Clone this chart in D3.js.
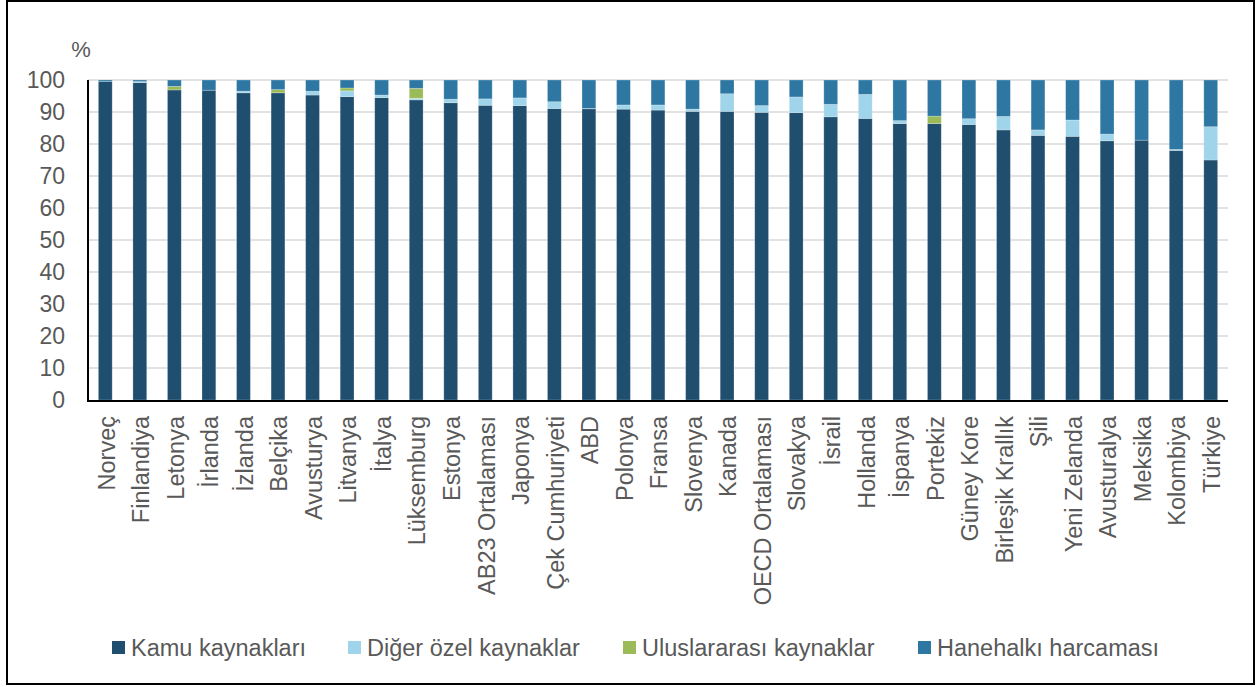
<!DOCTYPE html>
<html>
<head>
<meta charset="utf-8">
<script src="https://cdn.jsdelivr.net/npm/d3@7"></script>
<style>
  body { margin: 0; background: #fff; }
  text { font-family: "Liberation Sans", Arial, sans-serif; }
</style>
</head>
<body>
<div id="chart"></div>
<script>
// countries, left to right
var countries = ["Norveç", "Finlandiya", "Letonya", "İrlanda", "İzlanda", "Belçika", "Avusturya",
  "Litvanya", "İtalya", "Lüksemburg", "Estonya", "AB23 Ortalaması", "Japonya", "Çek Cumhuriyeti",
  "ABD", "Polonya", "Fransa", "Slovenya", "Kanada", "OECD Ortalaması", "Slovakya", "İsrail",
  "Hollanda", "İspanya", "Portekiz", "Güney Kore", "Birleşik Krallık", "Şili", "Yeni Zelanda",
  "Avusturalya", "Meksika", "Kolombiya", "Türkiye"];

// shares (%)
var kamu  = [99.5, 99.2, 96.9, 96.8, 96.0, 96.0, 95.3, 94.8, 94.5, 93.8, 92.9, 92.1, 92.0, 91.1,
  91.0, 90.9, 90.6, 90.2, 90.2, 89.9, 89.8, 88.5, 88.0, 86.4, 86.4, 86.1, 84.4, 82.7, 82.4,
  81.0, 81.2, 78.0, 75.0];
var diger = [0, 0.3, 0, 0, 0.5, 0, 1.2, 1.8, 0.8, 0.5, 1.1, 2.0, 2.4, 2.1,
  0.1, 1.3, 1.6, 0.7, 5.5, 2.1, 4.9, 3.9, 7.5, 0.9, 0, 1.8, 4.2, 1.7, 5.1,
  2.1, 0, 0.3, 10.4];
var ulus  = [0, 0, 1.1, 0, 0, 1.0, 0, 0.9, 0, 3.1, 0, 0, 0, 0,
  0, 0, 0, 0, 0, 0, 0, 0, 0, 0, 2.3, 0, 0, 0, 0,
  0, 0, 0, 0];
var hane  = [0.5, 0.5, 2.0, 3.2, 3.5, 3.0, 3.5, 2.5, 4.7, 2.6, 6.0, 5.9, 5.6, 6.8,
  8.9, 7.8, 7.8, 9.1, 4.3, 8.0, 5.3, 7.6, 4.5, 12.7, 11.3, 12.1, 11.4, 15.6, 12.5,
  16.9, 18.8, 21.7, 14.6];

var seriesKeys = ["kamu", "diger", "ulus", "hane"];
var seriesNames = ["Kamu kaynakları", "Diğer özel kaynaklar", "Uluslararası kaynaklar", "Hanehalkı harcaması"];
var seriesColors = ["#1f4e6f", "#9fd4ea", "#9bbb59", "#2e77a3"];
var yTicks = [0, 10, 20, 30, 40, 50, 60, 70, 80, 90, 100];

var width = 1260, height = 687;
var plotLeft = 88, plotRight = 1228, plotTop = 80, plotBottom = 400;

var rows = countries.map(function (c, i) {
  return { name: c, kamu: kamu[i], diger: diger[i], ulus: ulus[i], hane: hane[i] };
});

var svg = d3.select("#chart").append("svg")
  .attr("width", width)
  .attr("height", height);

// outer frame
svg.append("rect")
  .attr("x", 7).attr("y", 1)
  .attr("width", 1247).attr("height", 683)
  .attr("fill", "none")
  .attr("stroke", "#000")
  .attr("stroke-width", 2);

var x = d3.scaleBand()
  .domain(countries)
  .range([plotLeft, plotRight])
  .paddingInner(0.6)
  .paddingOuter(0.3);

var y = d3.scaleLinear()
  .domain([0, 100])
  .range([plotBottom, plotTop]);

// gridlines
svg.append("g")
  .selectAll("line")
  .data(yTicks.filter(function (t) { return t > 0; }))
  .enter()
  .append("line")
  .attr("x1", plotLeft).attr("x2", plotRight)
  .attr("y1", function (d) { return y(d); })
  .attr("y2", function (d) { return y(d); })
  .attr("stroke", "#d9d9d9")
  .attr("stroke-width", 1.5);

// y axis labels
var yAxis = svg.append("g")
  .attr("transform", "translate(" + plotLeft + ",0)")
  .call(d3.axisLeft(y).tickValues(yTicks).tickSize(0).tickPadding(23));
yAxis.select(".domain").remove();
yAxis.selectAll("text")
  .attr("font-size", "23px")
  .attr("fill", "#595959")
  .style("font-family", "'Liberation Sans', Arial, sans-serif");

svg.append("text")
  .attr("x", 81).attr("y", 57)
  .attr("text-anchor", "middle")
  .attr("font-size", "22px")
  .attr("fill", "#595959")
  .text("%");

// stacked bars
var stack = d3.stack().keys(seriesKeys);
var layers = stack(rows);

svg.append("g")
  .selectAll("g")
  .data(layers)
  .enter()
  .append("g")
  .attr("fill", function (d, i) { return seriesColors[i]; })
  .selectAll("rect")
  .data(function (d) { return d; })
  .enter()
  .append("rect")
  .attr("x", function (d) { return x(d.data.name); })
  .attr("width", x.bandwidth())
  .attr("y", function (d) { return y(d[1]); })
  .attr("height", function (d) { return Math.max(0, y(d[0]) - y(d[1])); })
  .attr("stroke", "#ffffff")
  .attr("stroke-opacity", 0.3)
  .attr("stroke-width", 0.8);

// axis lines
svg.append("line")
  .attr("x1", plotLeft).attr("x2", plotLeft)
  .attr("y1", plotTop).attr("y2", plotBottom + 1)
  .attr("stroke", "#000").attr("stroke-width", 2);
svg.append("line")
  .attr("x1", plotLeft - 1).attr("x2", plotRight)
  .attr("y1", plotBottom + 1).attr("y2", plotBottom + 1)
  .attr("stroke", "#000").attr("stroke-width", 2);

// x labels, rotated
svg.append("g")
  .selectAll("text")
  .data(countries)
  .enter()
  .append("text")
  .attr("transform", function (d) {
    return "translate(" + (x(d) + x.bandwidth() / 2 + 1) + "," + 416 + ") rotate(-90)";
  })
  .attr("text-anchor", "end")
  .attr("dy", "0.35em")
  .attr("font-size", "23.5px")
  .attr("fill", "#595959")
  .text(function (d) { return d; });

// legend
var legendX = [112, 348, 623, 918];
var legend = svg.append("g")
  .selectAll("g")
  .data(seriesNames)
  .enter()
  .append("g")
  .attr("transform", function (d, i) { return "translate(" + legendX[i] + ",641)"; });

legend.append("rect")
  .attr("width", 13).attr("height", 13)
  .attr("fill", function (d, i) { return seriesColors[i]; });

legend.append("text")
  .attr("x", 19).attr("y", 7)
  .attr("dy", "0.35em")
  .attr("font-size", "23.5px")
  .attr("fill", "#595959")
  .text(function (d) { return d; });
</script>
</body>
</html>
